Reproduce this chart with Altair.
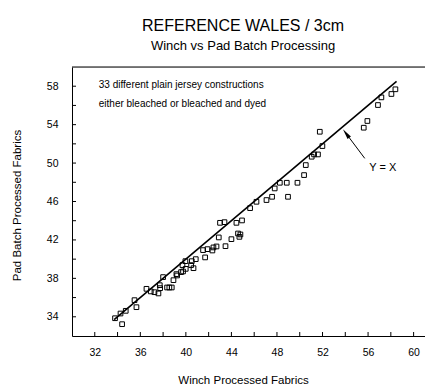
import altair as alt
import pandas as pd

# Data
winch = [33.78, 34.40, 34.26, 34.72, 35.66, 35.49, 36.54, 36.92, 37.24, 37.59,
         37.71, 37.74, 38.00, 38.35, 38.55, 38.76, 38.91, 39.23, 39.17, 39.58,
         39.75, 39.70, 39.99, 39.96, 40.46, 40.52, 40.67, 40.87, 41.51, 41.69,
         41.90, 42.33, 42.42, 42.69, 42.89, 43.00, 43.39, 43.48, 44.00, 44.44,
         44.58, 44.79, 44.70, 44.93, 45.64, 46.20, 47.08, 47.57, 48.97, 47.80,
         48.25, 48.86, 49.80, 50.38, 50.53, 51.05, 51.26, 51.60, 51.99, 51.76,
         55.62, 55.94, 56.87, 57.17, 58.05, 58.40]
pad = [33.85, 33.23, 34.34, 34.62, 35.00, 35.73, 36.91, 36.64, 36.56, 36.43,
       37.29, 36.98, 38.13, 37.05, 37.05, 37.05, 37.81, 38.30, 38.44, 38.65,
       38.72, 39.38, 38.99, 39.79, 39.38, 39.79, 39.06, 40.00, 40.94, 40.18,
       41.04, 40.90, 41.22, 41.32, 42.26, 43.78, 43.85, 41.35, 42.08, 43.78,
       42.67, 42.57, 42.32, 44.03, 45.31, 45.97, 46.15, 46.49, 46.49, 47.36,
       47.95, 47.95, 47.95, 48.75, 49.79, 50.66, 50.90, 50.90, 51.77, 53.26,
       53.68, 54.38, 56.04, 56.84, 57.19, 57.68]

identity_line = [33.7, 58.5]
x_ticks = [32, 34, 36, 38, 40, 42, 44, 46, 48, 50, 52, 54, 56, 58, 60]
x_labels = [32, 36, 40, 44, 48, 52, 56, 60]
y_ticks = [34, 36, 38, 40, 42, 44, 46, 48, 50, 52, 54, 56, 58]
y_labels = [34, 38, 42, 46, 50, 54, 58]

notes = ["33 different plain jersey constructions", "either bleached or bleached and dyed"]
notes_x = [32.35, 32.35]
notes_y = [58.1, 56.2]

arrow_tail = (55.71, 50.49)
arrow_head = (54.07, 53.08)
label_yx = (57.3, 49.48)

W, H = 353, 269
FONT = "Liberation Sans"

xs = alt.Scale(domain=[30, 61], nice=False, zero=False)
ys = alt.Scale(domain=[32, 60], nice=False, zero=False)

pts = pd.DataFrame({"winch": winch, "pad": pad})

points = alt.Chart(pts).mark_point(
    shape="square", filled=False, color="black", size=22, strokeWidth=1, opacity=1
).encode(
    x=alt.X("winch:Q", scale=xs, axis=alt.Axis(
        title="Winch Processed Fabrics", values=x_labels, ticks=False,
        labelPadding=11, labelFontSize=10.5, labelFont=FONT, labelColor="black",
        domainColor="black", grid=False, titleFont=FONT, titleFontSize=11.5,
        titleFontWeight="normal", titleColor="black", titleX=171, titleY=44,
        titleBaseline="middle", titleAnchor="start", titleAlign="center")),
    y=alt.Y("pad:Q", scale=ys, axis=alt.Axis(
        title="Pad Batch Processed Fabrics", values=y_labels, ticks=False,
        labelPadding=14, labelFontSize=10.5, labelFont=FONT, labelColor="black",
        domainColor="black", grid=False, titleFont=FONT, titleFontSize=11.5,
        titleFontWeight="normal", titleColor="black", titleX=-55, titleY=138,
        titleBaseline="middle", titleAlign="center", titleAnchor="start")),
)

line_df = pd.DataFrame({"x": identity_line, "y": identity_line})
idline = alt.Chart(line_df).mark_line(color="black", strokeWidth=1.6).encode(
    x=alt.X("x:Q", scale=xs), y=alt.Y("y:Q", scale=ys))

xt = alt.Chart(pd.DataFrame({"v": x_ticks})).mark_rule(color="black").encode(
    x=alt.X("v:Q", scale=xs), y=alt.value(H), y2=alt.value(H - 4))
yt = alt.Chart(pd.DataFrame({"v": y_ticks})).mark_rule(color="black").encode(
    y=alt.Y("v:Q", scale=ys), x=alt.value(0), x2=alt.value(4))
top = alt.Chart(pd.DataFrame({"v": [60]})).mark_rule(color="black").encode(
    y=alt.Y("v:Q", scale=ys), x=alt.value(0), x2=alt.value(W))

txt_df = pd.DataFrame({"t": notes, "x": notes_x, "y": notes_y})
txt = alt.Chart(txt_df).mark_text(
    align="left", baseline="middle", fontSize=10, font=FONT, color="black"
).encode(x=alt.X("x:Q", scale=xs), y=alt.Y("y:Q", scale=ys), text="t:N")

arr_df = pd.DataFrame({"x": [arrow_tail[0], arrow_head[0]], "y": [arrow_tail[1], arrow_head[1]]})
arr_line = alt.Chart(arr_df).mark_line(color="black", strokeWidth=1).encode(
    x=alt.X("x:Q", scale=xs), y=alt.Y("y:Q", scale=ys))
head = alt.Chart(pd.DataFrame({"x": [arrow_head[0]], "y": [arrow_head[1]]})).mark_point(
    shape="M0,-1L0.4,1L-0.4,1Z", filled=True, color="black", size=110, angle=323, opacity=1
).encode(x=alt.X("x:Q", scale=xs), y=alt.Y("y:Q", scale=ys))

lab = alt.Chart(pd.DataFrame({"t": ["Y = X"], "x": [label_yx[0]], "y": [label_yx[1]]})).mark_text(
    align="center", baseline="middle", fontSize=11, font=FONT, color="black"
).encode(x=alt.X("x:Q", scale=xs), y=alt.Y("y:Q", scale=ys), text="t:N")

chart = alt.layer(top, xt, yt, idline, arr_line, head, points, txt, lab).properties(
    width=W, height=H,
    title=alt.TitleParams(
        text="REFERENCE WALES / 3cm", subtitle="Winch vs Pad Batch Processing",
        font=FONT, fontSize=16, fontWeight="normal", color="black",
        subtitleFont=FONT, subtitleFontSize=13, subtitleColor="black",
        anchor="middle", dx=-5.5, offset=14, subtitlePadding=6),
    autosize=alt.AutoSizeParams(type="none"),
    padding={"left": 72, "top": 67, "right": 0, "bottom": 51},
).configure_view(stroke=None).configure(background="white")

chart.save("out.html", embed_options={"renderer": "svg", "actions": False})
